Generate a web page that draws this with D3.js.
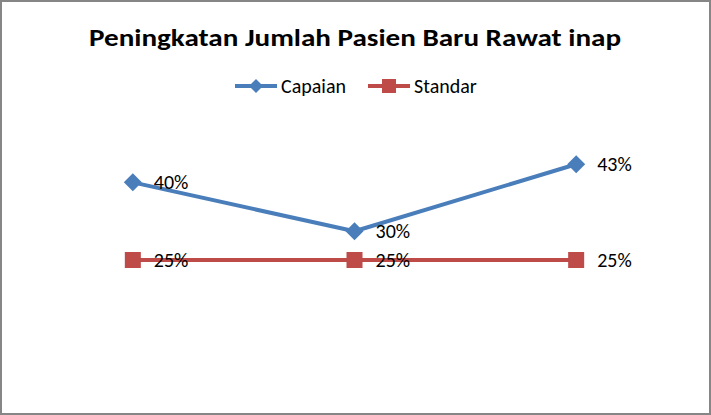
<!DOCTYPE html>
<html><head><meta charset="utf-8">
<script src="https://cdn.jsdelivr.net/npm/d3@7"></script>
<style>html,body{margin:0;padding:0;background:#fff;}svg{display:block;}</style>
</head><body>
<svg id="c" width="711" height="415"></svg>
<script>
const title = "Peningkatan Jumlah Pasien Baru Rawat inap";
const categories = ["1", "2", "3"];
const capaian = [0.396, 0.304, 0.43];
const standar = [0.25, 0.25, 0.25];
const seriesNames = ["Capaian", "Standar"];

const W = 711, H = 415;
const svg = d3.select("#c");
svg.append("rect").attr("x", 1).attr("y", 1).attr("width", W - 2).attr("height", H - 2)
  .attr("fill", "#fff").attr("stroke", "#868686").attr("stroke-width", 2);

const x = d3.scalePoint().domain(categories).range([22, 687]).padding(0.5);
const y = d3.scaleLinear().domain([0, 0.5]).range([393, 127]);
const fmt = d3.format(".0%");

const font = "Calibri, Carlito, 'Open Sans', sans-serif";

svg.append("text").attr("x", 355).attr("y", 46).attr("text-anchor", "middle")
  .attr("font-family", font).attr("font-weight", "bold").attr("font-size", 24)
  .attr("fill", "#000").text(title)
  .attr("textLength", 532).attr("lengthAdjust", "spacingAndGlyphs");

const series = [
  {name: seriesNames[0], values: capaian, color: "#4a7ebb", marker: "diamond"},
  {name: seriesNames[1], values: standar, color: "#be4b48", marker: "square"}
];

function drawMarker(g, type, color) {
  if (type === "diamond") {
    g.append("path").attr("d", "M0,-9L9,0L0,9L-9,0Z").attr("fill", color);
  } else {
    g.append("rect").attr("x", -8).attr("y", -8).attr("width", 16).attr("height", 16).attr("fill", color);
  }
}

const line = d3.line().x((d, i) => x(categories[i])).y(d => y(d));
series.forEach(s => {
  svg.append("path").datum(s.values).attr("d", line).attr("fill", "none")
    .attr("stroke", s.color).attr("stroke-width", 4).attr("stroke-linejoin", "round");
  s.values.forEach((v, i) => {
    const g = svg.append("g").attr("transform", `translate(${x(categories[i])},${y(v)})`);
    drawMarker(g, s.marker, s.color);
    svg.append("text").attr("x", x(categories[i]) + 21).attr("y", y(v) + 7)
      .attr("font-family", font).attr("font-size", 20).attr("fill", "#000").text(fmt(v));
  });
});

// legend
const legX = [235, 368];
series.forEach((s, i) => {
  const g = svg.append("g").attr("transform", `translate(${legX[i]},86)`);
  g.append("line").attr("x1", 0).attr("x2", 42).attr("y1", 0).attr("y2", 0)
    .attr("stroke", s.color).attr("stroke-width", 4);
  const m = g.append("g").attr("transform", "translate(21,0)");
  if (s.marker === "diamond") m.append("path").attr("d", "M0,-7L7,0L0,7L-7,0Z").attr("fill", s.color);
  else m.append("rect").attr("x", -7).attr("y", -7).attr("width", 14).attr("height", 14).attr("fill", s.color);
  g.append("text").attr("x", 46).attr("y", 7).attr("font-family", font).attr("font-size", 20)
    .attr("fill", "#000").text(s.name);
});
</script>
</body></html>
